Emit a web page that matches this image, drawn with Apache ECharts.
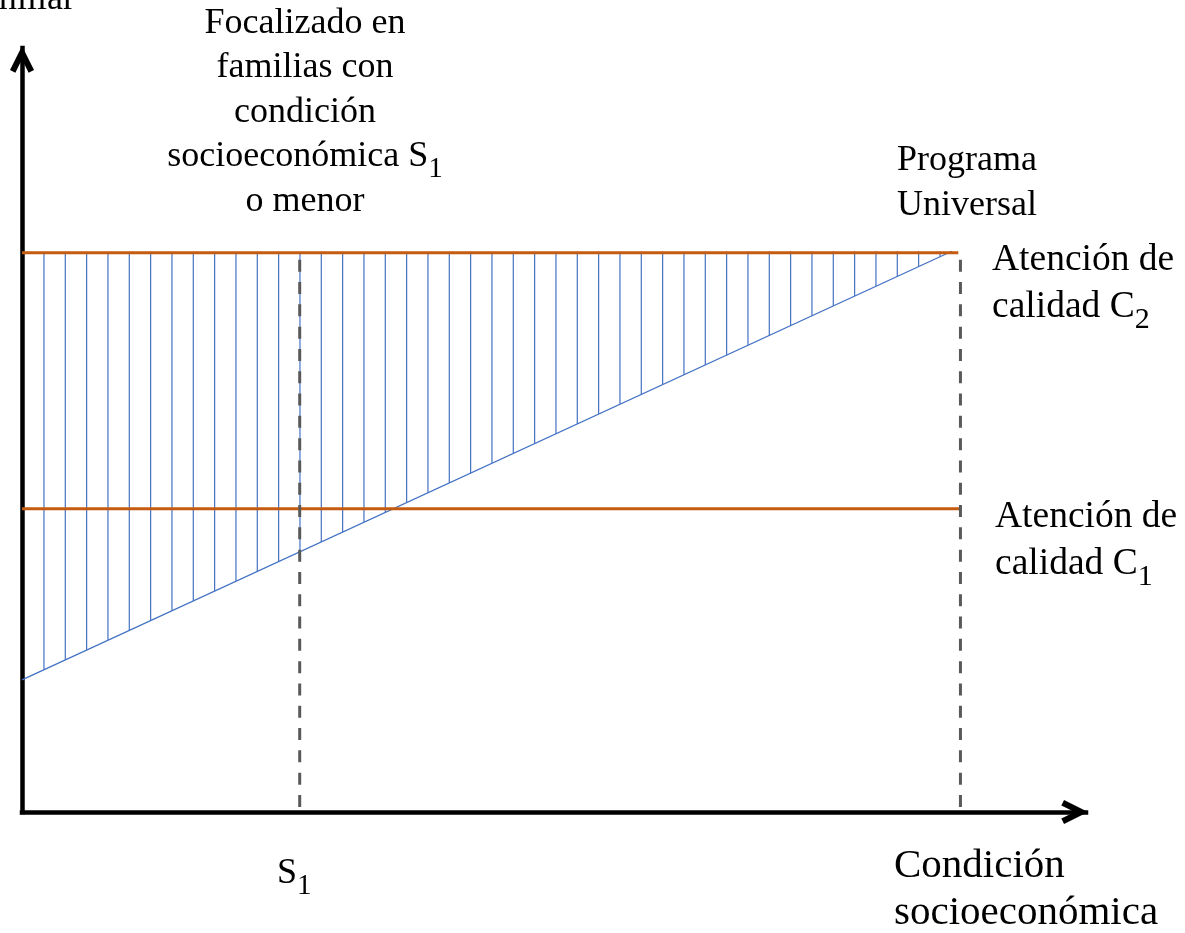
<!DOCTYPE html>
<html>
<head>
<meta charset="utf-8">
<script src="https://cdn.jsdelivr.net/npm/echarts@6/dist/echarts.min.js"></script>
<style>
html,body{margin:0;padding:0;background:#ffffff;}
#chart{width:1185px;height:933px;}
</style>
</head>
<body>
<div id="chart"></div>
<script>
// ---- data (arbitrary 0..100 scales) ----
const xDomain = [0, 100];
const yDomain = [0, 100];
const demandCurve = [[0, 17.3], [87.4, 73.4]];
const qualityC2Line = [[0, 73.2], [88.0, 73.2]];
const qualityC1Line = [[0, 39.7], [88.2, 39.7]];
const targetS1Line = [[26.1, 73.2], [26.1, 0]];
const universalLine = [[88.2, 73.2], [88.2, 0]];
const hatchTop = 73.2;

// ---- texts ----
const yAxisTitle = ['familiar'];
const focusLabel = ['Focalizado en', 'familias con', 'condición', 'socioeconómica S{sub|1}', 'o menor'];
const universalLabel = ['Programa', 'Universal'];
const c2Label = ['Atención de', 'calidad C{sub|2}'];
const c1Label = ['Atención de', 'calidad C{sub|1}'];
const s1Label = ['S{sub|1}'];
const xAxisTitle = ['Condición', 'socioeconómica'];

// ---- styles ----
const FONT = '"Liberation Serif", "Times New Roman", serif';
const ORANGE = '#C55A11';
const BLUE = '#4472C4';
const GREY = '#595959';

// vertical hatch pattern
const pat = document.createElement('canvas');
pat.width = 64; pat.height = 8;
const pc = pat.getContext('2d');
pc.fillStyle = BLUE;
[1.3, 22.63, 43.97].forEach(function (x) { pc.fillRect(x - 0.6, 0, 1.2, 8); });

// bold open chevron pointing along the axis
const arrowPath = 'path://M12,0L24,24L18.6,26.7L12,13.4L5.4,26.7L0,24Z';

function txt(lines, x, y, size, lh, align, subPad) {
  const sub = Math.round(size * 0.8);
  return {
    type: 'text', z: 100, silent: true,
    style: {
      x: x, y: y,
      text: lines.join('\n'),
      font: size + 'px ' + FONT,
      fill: '#000000',
      align: align, textAlign: align,
      verticalAlign: 'top', textVerticalAlign: 'top',
      lineHeight: lh,
      rich: {
        sub: { font: sub + 'px ' + FONT, fill: '#000000', padding: [subPad, 0, 0, 0], lineHeight: lh }
      }
    }
  };
}

function axisCfg() {
  return {
    type: 'value', min: 0, max: 100, z: 2,
    axisLine: {
      show: true, onZero: false,
      lineStyle: { color: '#000000', width: 4.5, cap: 'square' },
      symbol: ['none', arrowPath], symbolSize: [24, 26.7], symbolOffset: [0, -11.3]
    },
    axisTick: { show: false }, axisLabel: { show: false }, splitLine: { show: false }
  };
}

const chart = echarts.init(document.getElementById('chart'), null, { renderer: 'canvas' });
const xA = axisCfg(); xA.min = xDomain[0]; xA.max = xDomain[1];
const yA = axisCfg(); yA.min = yDomain[0]; yA.max = yDomain[1];

chart.setOption({
  backgroundColor: '#ffffff',
  animation: false,
  grid: { left: 22, right: 99, top: 48, bottom: 121, containLabel: false, outerBoundsMode: 'none' },
  xAxis: xA,
  yAxis: yA,
  series: [
    { type: 'line', data: demandCurve, symbol: 'none', z: 1, silent: true,
      lineStyle: { opacity: 0 },
      areaStyle: { origin: hatchTop, opacity: 1, color: { image: pat, repeat: 'repeat' } } },
    { type: 'line', data: demandCurve, symbol: 'none', z: 3, silent: true,
      lineStyle: { color: BLUE, width: 1.3 } },
    { type: 'line', data: qualityC2Line, symbol: 'none', z: 4, silent: true,
      lineStyle: { color: ORANGE, width: 3 } },
    { type: 'line', data: qualityC1Line, symbol: 'none', z: 4, silent: true,
      lineStyle: { color: ORANGE, width: 3 } },
    { type: 'line', data: targetS1Line, symbol: 'none', z: 5, silent: true,
      lineStyle: { color: GREY, width: 3, type: [12, 10.3], dashOffset: 15.3 } },
    { type: 'line', data: universalLine, symbol: 'none', z: 5, silent: true,
      lineStyle: { color: GREY, width: 3, type: [12, 10.3], dashOffset: 15.3 } }
  ],
  graphic: [
    txt(yAxisTitle, 75, -22.8, 36, 44, 'right', 26),
    txt(focusLabel, 305, 1, 36, 44.5, 'center', 26),
    txt(universalLabel, 967, 138, 36, 44.7, 'center', 26),
    txt(c2Label, 992, 237, 37.5, 46.5, 'left', 26),
    txt(c1Label, 995, 494, 37.5, 46.7, 'left', 26),
    txt(s1Label, 277, 851, 36, 46, 'left', 24),
    txt(xAxisTitle, 894, 843, 41, 46.7, 'left', 26)
  ]
});
</script>
</body>
</html>
